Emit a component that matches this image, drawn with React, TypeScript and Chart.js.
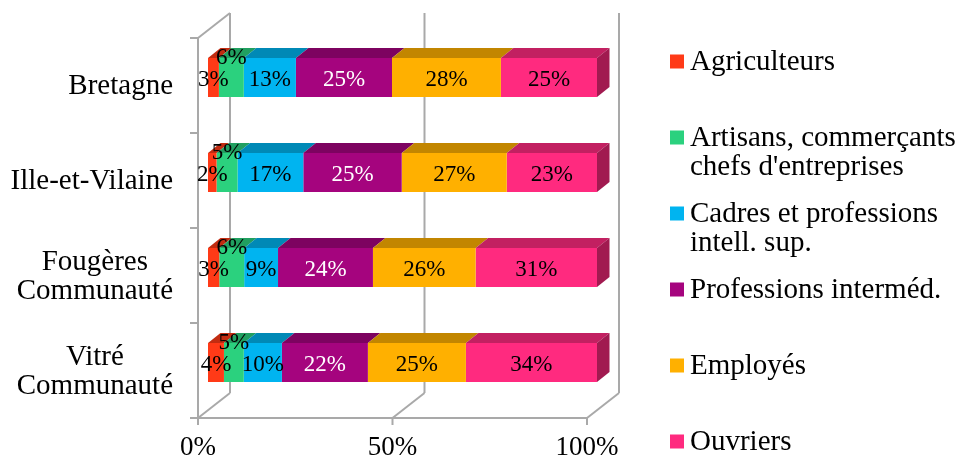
import React, { useEffect, useRef } from 'react';
import { Chart, registerables } from 'chart.js';

Chart.register(...registerables);

// ---- data ----
const categories: string[][] = [
  ['Bretagne'],
  ['Ille-et-Vilaine'],
  ['Fougères', 'Communauté'],
  ['Vitré', 'Communauté'],
];
const seriesNames: string[][] = [
  ['Agriculteurs'],
  ['Artisans, commerçants', "chefs d'entreprises"],
  ['Cadres et professions', 'intell. sup.'],
  ['Professions interméd.'],
  ['Employés'],
  ['Ouvriers'],
];
const agriculteurs = [2.8, 2.2, 2.9, 4.1];
const artisans = [6.4, 5.4, 6.4, 5.1];
const cadres = [13.4, 16.9, 8.7, 9.8];
const professions = [24.7, 25.3, 24.4, 22.1];
const employes = [28.0, 27.0, 26.4, 25.2];
const ouvriers = [24.7, 23.2, 31.2, 33.7];
const xTicks = [0, 50, 100];

// ---- styles ----
const colors = ['#FF3A17', '#2BD17E', '#00B4F0', '#A5047E', '#FFB000', '#FF2A7F'];
const labelColors = ['#000000', '#000000', '#000000', '#FFFFFF', '#000000', '#000000'];
const FONT = '"Liberation Serif", "Times New Roman", serif';
const GRID = '#A9A9A9';

function shade(hex: string, f: number): string {
  const n = parseInt(hex.slice(1), 16);
  const r = Math.round(((n >> 16) & 255) * f);
  const g = Math.round(((n >> 8) & 255) * f);
  const b = Math.round((n & 255) * f);
  return `rgb(${r},${g},${b})`;
}

// offsets relative to the bar (front face) plane
const FRONT_DX = -10, FRONT_DY = 8;
const BACK_DX = 22, BACK_DY = -17;
const TOP_DX = 12.5, TOP_DY = -10;

const wallsPlugin = {
  id: 'walls3d',
  beforeDatasetsDraw(chart: any) {
    const ctx = chart.ctx;
    const xs = chart.scales.x;
    const ys = chart.scales.y;
    const top = ys.getPixelForValue(-0.5);
    const bottom = ys.getPixelForValue(categories.length - 0.5);
    const fTop = top + FRONT_DY, fBot = bottom + FRONT_DY;
    const bTop = top + BACK_DY, bBot = bottom + BACK_DY;
    const x0 = xs.getPixelForValue(0);
    ctx.save();
    ctx.strokeStyle = GRID;
    ctx.lineWidth = 2;
    ctx.lineCap = 'butt';
    const line = (a: number, b: number, c: number, d: number) => {
      ctx.beginPath();
      ctx.moveTo(a, b);
      ctx.lineTo(c, d);
      ctx.stroke();
    };
    xTicks.forEach((v) => {
      const px = xs.getPixelForValue(v);
      line(px + BACK_DX, bTop, px + BACK_DX, bBot);
      line(px + FRONT_DX, fBot, px + BACK_DX, bBot);
      line(px + FRONT_DX, fBot, px + FRONT_DX, fBot + 7);
    });
    line(x0 + FRONT_DX, fTop, x0 + FRONT_DX, fBot);
    line(x0 + FRONT_DX, fTop, x0 + BACK_DX, bTop);
    line(x0 + FRONT_DX - 8, fBot, xs.getPixelForValue(100) + FRONT_DX, fBot);
    for (let i = 0; i <= categories.length; i++) {
      const y = ys.getPixelForValue(i - 0.5) + FRONT_DY;
      line(x0 + FRONT_DX - 8, y, x0 + FRONT_DX, y);
    }
    ctx.restore();
  },
  afterDatasetsDraw(chart: any) {
    const ctx = chart.ctx;
    const n = chart.data.datasets.length;
    ctx.save();
    for (let d = 0; d < n; d++) {
      const meta = chart.getDatasetMeta(d);
      meta.data.forEach((bar: any) => {
        const p = bar.getProps(['x', 'y', 'base', 'height'], true);
        const x1 = Math.min(p.x, p.base), x2 = Math.max(p.x, p.base);
        const yt = p.y - p.height / 2, yb = p.y + p.height / 2;
        ctx.fillStyle = shade(colors[d], 0.76);
        ctx.beginPath();
        ctx.moveTo(x1, yt);
        ctx.lineTo(x2, yt);
        ctx.lineTo(x2 + TOP_DX, yt + TOP_DY);
        ctx.lineTo(x1 + TOP_DX, yt + TOP_DY);
        ctx.closePath();
        ctx.fill();
        if (d === n - 1) {
          ctx.fillStyle = shade(colors[d], 0.63);
          ctx.beginPath();
          ctx.moveTo(x2, yt);
          ctx.lineTo(x2 + TOP_DX, yt + TOP_DY);
          ctx.lineTo(x2 + TOP_DX, yb + TOP_DY);
          ctx.lineTo(x2, yb);
          ctx.closePath();
          ctx.fill();
        }
      });
    }
    ctx.font = `23px ${FONT}`;
    ctx.textAlign = 'center';
    ctx.textBaseline = 'middle';
    for (let d = 0; d < n; d++) {
      const meta = chart.getDatasetMeta(d);
      const vals = chart.data.datasets[d].data as number[];
      meta.data.forEach((bar: any, j: number) => {
        const p = bar.getProps(['x', 'y', 'base'], true);
        const cx = (p.x + p.base) / 2;
        const cy = p.y + 2 + (d === 1 ? -22 : 0);
        ctx.fillStyle = labelColors[d];
        ctx.fillText(`${Math.round(vals[j])}%`, cx, cy);
      });
    }
    ctx.restore();
  },
  afterDraw(chart: any) {
    const ctx = chart.ctx;
    const xs = chart.scales.x;
    const ys = chart.scales.y;
    ctx.save();
    ctx.fillStyle = '#000000';
    ctx.textBaseline = 'middle';
    ctx.font = `27px ${FONT}`;
    ctx.textAlign = 'center';
    const fBot = ys.getPixelForValue(categories.length - 0.5) + FRONT_DY;
    xTicks.forEach((v) => {
      ctx.fillText(`${v}%`, xs.getPixelForValue(v) + FRONT_DX, fBot + 30);
    });
    ctx.font = `29px ${FONT}`;
    const right = 173;
    const lh = 29;
    categories.forEach((lines, i) => {
      const cy = ys.getPixelForValue(i) + FRONT_DY;
      const w = Math.max(...lines.map((l) => ctx.measureText(l).width));
      const cx = right - w / 2;
      lines.forEach((l, k) => {
        ctx.fillText(l, cx, cy + 1 + (k - (lines.length - 1) / 2) * lh);
      });
    });
    ctx.textAlign = 'left';
    const lx = 670, ly0 = 61.5, step = 76;
    seriesNames.forEach((lines, i) => {
      const y = ly0 + i * step;
      ctx.fillStyle = colors[i];
      ctx.fillRect(lx, y - 7, 14, 14);
      ctx.fillStyle = '#000000';
      lines.forEach((l, k) => ctx.fillText(l, lx + 20, y + 1 + k * 29));
    });
    ctx.restore();
  },
};

export default function App() {
  const ref = useRef<HTMLCanvasElement>(null);
  useEffect(() => {
    if (!ref.current) return;
    const series = [agriculteurs, artisans, cadres, professions, employes, ouvriers];
    const chart = new Chart(ref.current, {
      type: 'bar',
      data: {
        labels: categories,
        datasets: series.map((s, i) => ({
          label: seriesNames[i].join(' '),
          data: s,
          backgroundColor: colors[i],
          borderWidth: 0,
          barPercentage: 0.41,
          categoryPercentage: 1,
        })),
      },
      options: {
        indexAxis: 'y',
        responsive: false,
        animation: false,
        devicePixelRatio: 1,
        layout: { padding: { left: 208, right: 366, top: 30, bottom: 52 } },
        scales: {
          x: { stacked: true, min: 0, max: 100, display: false },
          y: { stacked: true, display: false },
        },
        plugins: { legend: { display: false }, tooltip: { enabled: false } },
      },
      plugins: [wallsPlugin],
    });
    return () => chart.destroy();
  }, []);
  return (
    <div style={{ position: 'absolute', left: 0, top: 0, width: 963, height: 462, background: '#fff' }}>
      <canvas ref={ref} width={963} height={462} />
    </div>
  );
}
